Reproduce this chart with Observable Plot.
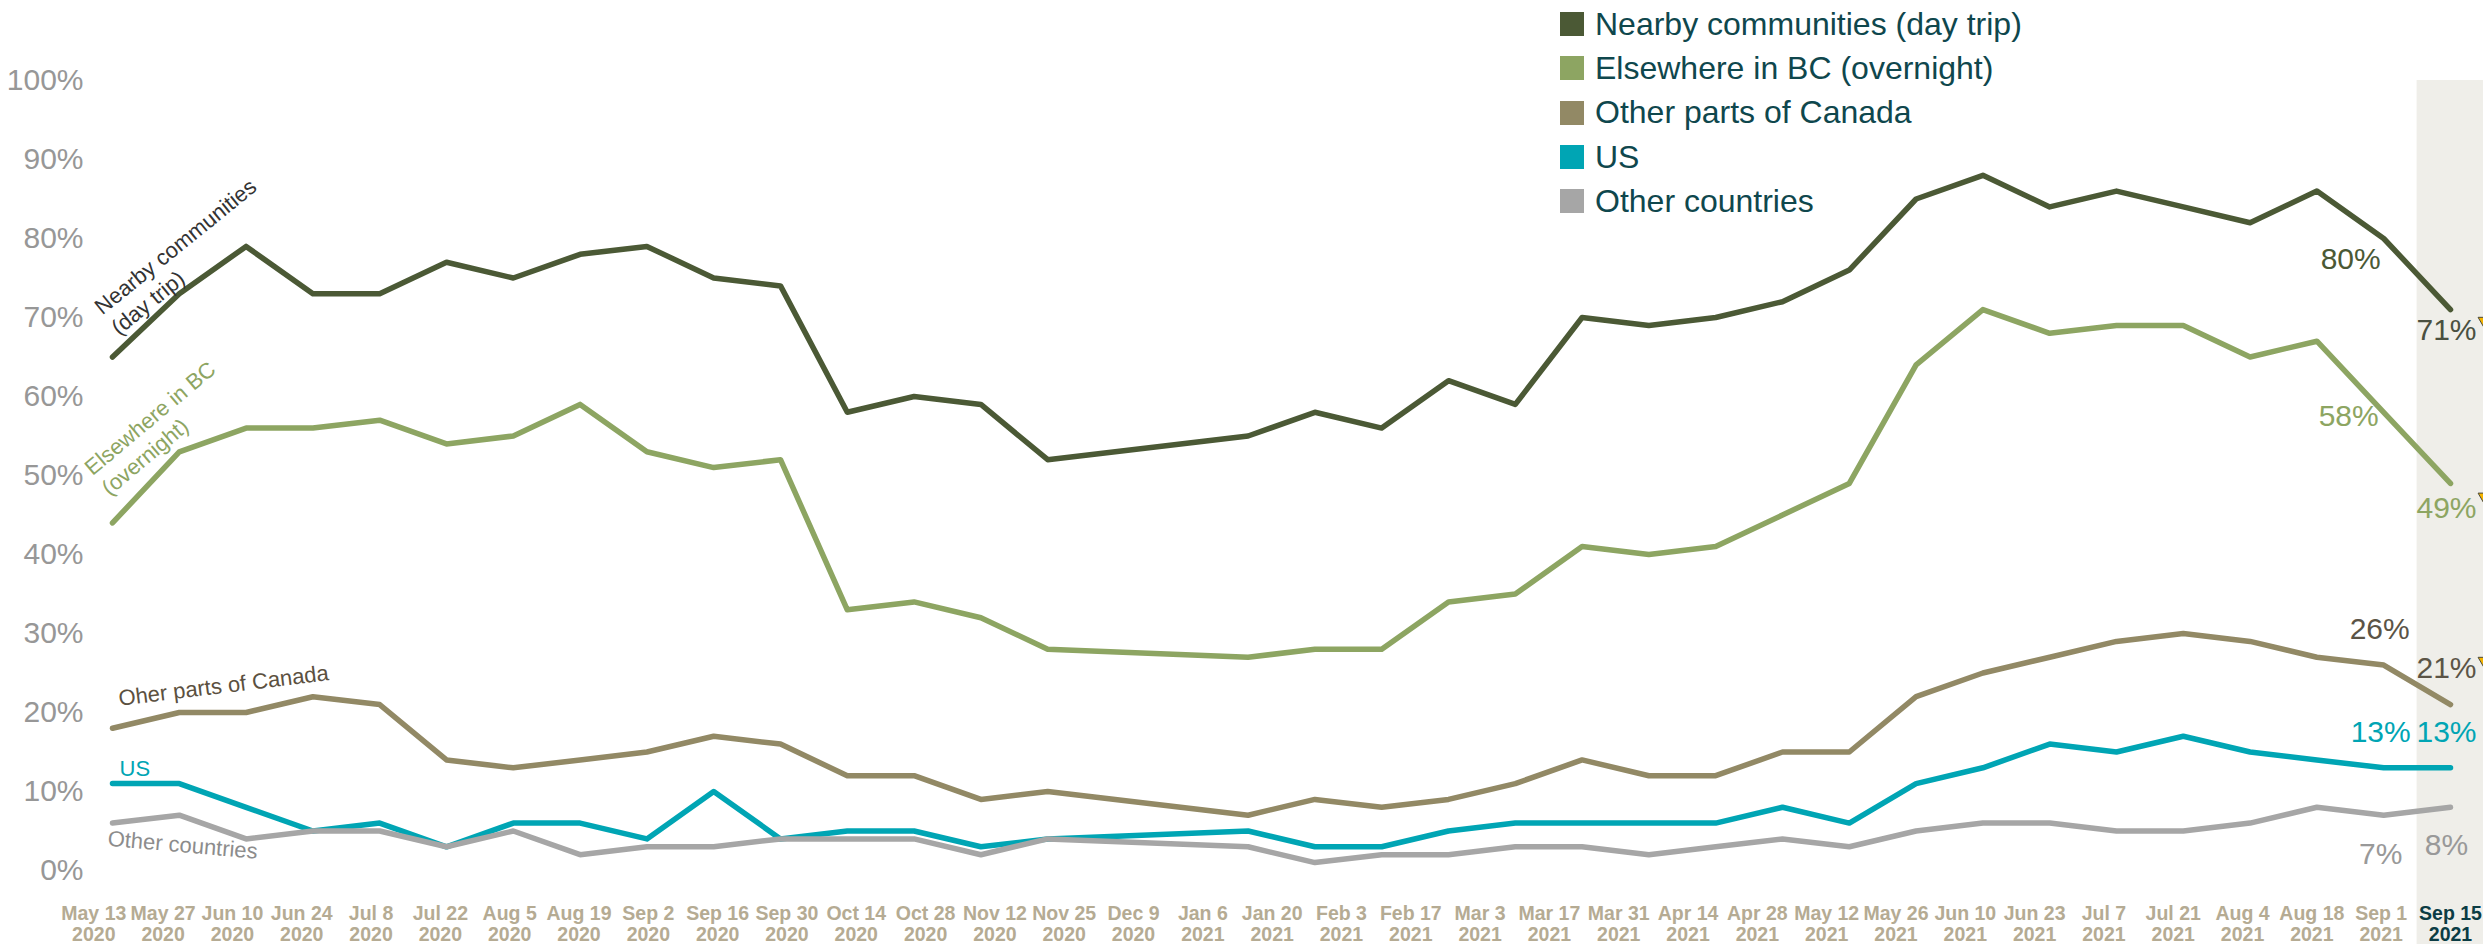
<!DOCTYPE html>
<html>
<head>
<meta charset="utf-8">
<script src="https://cdn.jsdelivr.net/npm/d3@7"></script>
<script src="https://cdn.jsdelivr.net/npm/@observablehq/plot@0.6"></script>
<style>
  html, body { margin: 0; padding: 0; background: #ffffff; }
  #wrap { position: relative; width: 2483px; height: 944px; overflow: hidden;
          font-family: "Liberation Sans", Arial, Helvetica, sans-serif; }
  #chart { position: absolute; left: 0; top: 0; }
  #legend { position: absolute; left: 1560px; top: 2px; }
  .item { display: flex; align-items: center; height: 44.3px; font-size: 32px; color: #0f474d; white-space: nowrap; }
  .sw { width: 24px; height: 24px; margin-right: 11px; flex: none; }
</style>
</head>
<body>
<div id="wrap"><div id="chart"></div><div id="legend"></div></div>
<script>
// ---------------- data ----------------
const xLabels = [
  "May 13\n2020","May 27\n2020","Jun 10\n2020","Jun 24\n2020","Jul 8\n2020","Jul 22\n2020",
  "Aug 5\n2020","Aug 19\n2020","Sep 2\n2020","Sep 16\n2020","Sep 30\n2020","Oct 14\n2020",
  "Oct 28\n2020","Nov 12\n2020","Nov 25\n2020","Dec 9\n2020","Jan 6\n2021","Jan 20\n2021",
  "Feb 3\n2021","Feb 17\n2021","Mar 3\n2021","Mar 17\n2021","Mar 31\n2021","Apr 14\n2021",
  "Apr 28\n2021","May 12\n2021","May 26\n2021","Jun 10\n2021","Jun 23\n2021","Jul 7\n2021",
  "Jul 21\n2021","Aug 4\n2021","Aug 18\n2021","Sep 1\n2021","Sep 15\n2021"
];

const seriesNames = [
  "Nearby communities (day trip)",
  "Elsewhere in BC (overnight)",
  "Other parts of Canada",
  "US",
  "Other countries"
];
const seriesColors = ["#4b5935", "#8da562", "#928965", "#00a5b4", "#a6a6a6"];

// one value per survey wave (null = no data, line bridges the gap)
const nearby        = [65,73,79,73,73,77,75,78,79,75,74,58,60,59,52,null,null,55,58,56,62,59,70,69,70,72,76,85,88,84,86,84,82,86,80,71];
const elsewhereBC   = [44,53,56,56,57,54,55,59,53,51,52,33,34,32,28,null,null,27,28,28,34,35,41,40,41,45,49,64,71,68,69,69,65,67,58,49];
const otherCanada   = [18,20,20,22,21,14,13,14,15,17,16,12,12,9,10,null,null,7,9,8,9,11,14,12,12,15,15,22,25,27,29,30,29,27,26,21];
const us            = [11,11,8,5,6,3,6,6,4,10,4,5,5,3,4,null,null,5,3,3,5,6,6,6,6,8,6,11,13,16,15,17,15,14,13,13];
const otherCountries= [6,7,4,5,5,3,5,2,3,3,4,4,4,2,4,null,null,3,1,2,2,3,3,2,3,4,3,5,6,6,5,5,6,8,7,8];

const yTicks = [0,10,20,30,40,50,60,70,80,90,100];

// ---------------- build table ----------------
const seriesValues = [nearby, elsewhereBC, otherCanada, us, otherCountries];
const table = [];
seriesValues.forEach((vals, s) => vals.forEach((v, i) => {
  if (v != null) table.push({series: seriesNames[s], wave: i, value: v});
}));
const nWaves = nearby.length;
const lastWave = nWaves - 1;
const prevWave = nWaves - 2;
const colorOf = Object.fromEntries(seriesNames.map((n, i) => [n, seriesColors[i]]));

// axis labels are evenly spread across the plotted span (first one slightly left of the first wave)
const labelStart = -0.28, labelEnd = lastWave;
const labelPos = xLabels.map((_, k) => labelStart + k * (labelEnd - labelStart) / (xLabels.length - 1));
const xLabelData = xLabels.map((t, k) => ({pos: labelPos[k], text: t, last: k === xLabels.length - 1}));

// ---------------- marks ----------------
const FONT = "Liberation Sans, Arial, Helvetica, sans-serif";
const marks = [];

// highlight band for the latest wave
marks.push(Plot.rect([lastWave], {x1: d => d - 0.5, x2: d => d + 0.5, y1: 100, y2: -10, fill: "#efeee9"}));

// lines
marks.push(Plot.line(table, {
  x: "wave", y: "value", z: "series", stroke: "series",
  strokeWidth: 5.5, strokeLinejoin: "round", strokeLinecap: "round"
}));

// y axis
marks.push(Plot.axisY(yTicks, {
  tickFormat: d => d + "%", tickSize: 0, tickPadding: 29, fontSize: 30,
  color: "#979797", label: null
}));

// x axis labels
marks.push(Plot.text(xLabelData.filter(d => !d.last), {
  x: "pos", text: "text", frameAnchor: "bottom", lineAnchor: "top", dy: 34,
  fontSize: 19.5, fontWeight: "bold", fill: "#b5ab93", lineHeight: 1.1
}));
marks.push(Plot.text(xLabelData.filter(d => d.last), {
  x: "pos", text: "text", frameAnchor: "bottom", lineAnchor: "top", dy: 34,
  fontSize: 19.5, fontWeight: "bold", fill: "#0b3c44", lineHeight: 1.1
}));

// series annotations at the first wave
const firstPt = s => [{wave: 0, value: seriesValues[s][0]}];
marks.push(Plot.text(firstPt(0), {x: "wave", y: "value", text: () => "Nearby communities\n(day trip)",
  textAnchor: "start", lineAnchor: "top", rotate: -39, dx: -22, dy: -56, fontSize: 22, lineHeight: 1.2, fill: "#333333"}));
marks.push(Plot.text(firstPt(1), {x: "wave", y: "value", text: () => "Elsewhere in BC\n(overnight)",
  textAnchor: "start", lineAnchor: "top", rotate: -40, dx: -32, dy: -61, fontSize: 22, lineHeight: 1.2, fill: "#8da562"}));
marks.push(Plot.text(firstPt(2), {x: "wave", y: "value", text: () => "Oher parts of Canada",
  textAnchor: "start", lineAnchor: "top", rotate: -7, dx: 5, dy: -38, fontSize: 22, fill: "#5b5040"}));
marks.push(Plot.text(firstPt(3), {x: "wave", y: "value", text: () => "US",
  textAnchor: "start", lineAnchor: "top", dx: 7, dy: -23, fontSize: 22, fill: "#00a5b4"}));
marks.push(Plot.text(firstPt(4), {x: "wave", y: "value", text: () => "Other countries",
  textAnchor: "start", lineAnchor: "top", rotate: 5, dx: -4, dy: 7, fontSize: 22, fill: "#8c8c8c"}));

// end-of-line value labels (offsets are layout only)
const endLabels = [
  {s: 0, w: prevWave, dx: -33, dy: 21, fill: "#4b5935"},
  {s: 0, w: lastWave, dx: -4,  dy: 21, fill: "#4a5040"},
  {s: 1, w: prevWave, dx: -35, dy: 4,  fill: "#8da562"},
  {s: 1, w: lastWave, dx: -4,  dy: 25, fill: "#8da562"},
  {s: 2, w: prevWave, dx: -4,  dy: -36, fill: "#5b5446"},
  {s: 2, w: lastWave, dx: -4,  dy: -36, fill: "#5b5446"},
  {s: 3, w: prevWave, dx: -3,  dy: -35, fill: "#00a5b4"},
  {s: 3, w: lastWave, dx: -4,  dy: -35, fill: "#00a5b4"},
  {s: 4, w: prevWave, dx: -3,  dy: 39, fill: "#999999"},
  {s: 4, w: lastWave, dx: -4,  dy: 38, fill: "#999999"}
];
for (const l of endLabels) {
  const pt = [{wave: l.w, value: seriesValues[l.s][l.w]}];
  marks.push(Plot.text(pt, {x: "wave", y: "value", text: d => d.value + "%",
    dx: l.dx, dy: l.dy, fontSize: 30, fill: l.fill, textAnchor: "middle", lineAnchor: "middle"}));
}

// decline markers next to the latest values
const declines = [
  {s: 0, dy: 12}, {s: 1, dy: 14}, {s: 2, dy: -43}
];
for (const t of declines) {
  const pt = [{wave: lastWave, value: seriesValues[t.s][lastWave]}];
  marks.push(Plot.dot(pt, {x: "wave", y: "value", symbol: "triangle", rotate: 180, r: 5.5,
    fill: "#f5b400", stroke: "#4a4a3a", strokeWidth: 1, dx: 35, dy: t.dy}));
}

const chart = Plot.plot({
  width: 2483, height: 944,
  marginLeft: 112, marginRight: 33, marginTop: 80, marginBottom: 74,
  x: {type: "linear", domain: [0, lastWave], axis: null},
  y: {domain: [0, 100]},
  color: {domain: seriesNames, range: seriesColors},
  style: {fontFamily: FONT, background: "transparent", overflow: "visible"},
  marks
});
document.getElementById("chart").appendChild(chart);

// legend
const legend = document.getElementById("legend");
seriesNames.forEach(n => {
  const row = document.createElement("div");
  row.className = "item";
  const sw = document.createElement("span");
  sw.className = "sw";
  sw.style.background = colorOf[n];
  const tx = document.createElement("span");
  tx.textContent = n;
  row.appendChild(sw); row.appendChild(tx);
  legend.appendChild(row);
});
</script>
</body>
</html>
